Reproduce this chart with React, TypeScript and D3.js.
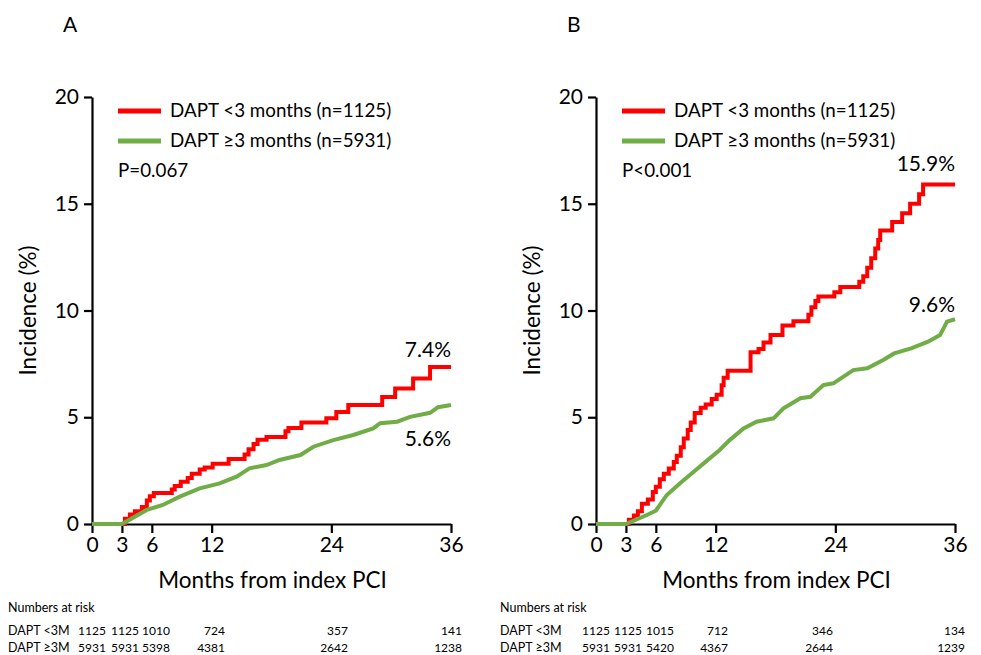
import React, { useEffect, useRef } from 'react';
import * as d3 from 'd3';

// ---- data ----
const xTicks = [0, 3, 6, 12, 24, 36];
const yTicks = [0, 5, 10, 15, 20];

const aRedMonths = [0, 3, 3.3, 3.8, 4.3, 5.0, 5.5, 5.8, 6.2, 8.0, 8.3, 8.9, 9.6, 10.0, 10.8, 11.3, 12.1, 13.7, 15.3, 15.7, 16.2, 16.6, 17.5, 19.4, 19.7, 21.0, 23.5, 24.5, 25.7, 29.1, 30.4, 32.2, 33.9, 36];
const aRedValues = [0, 0, 0.25, 0.45, 0.6, 0.8, 1.1, 1.3, 1.45, 1.62, 1.78, 1.98, 2.15, 2.35, 2.55, 2.65, 2.82, 3.05, 3.25, 3.5, 3.75, 3.95, 4.08, 4.35, 4.5, 4.75, 4.95, 5.25, 5.57, 5.95, 6.35, 6.82, 7.35, 7.35];
const aGreenMonths = [0, 3, 5.5, 7.1, 8.8, 10.8, 12.8, 14.5, 15.8, 17.5, 18.8, 20.9, 22.2, 24.2, 26.2, 28.2, 28.9, 30.6, 31.9, 33.9, 34.7, 36];
const aGreenValues = [0, 0, 0.66, 0.89, 1.28, 1.67, 1.9, 2.22, 2.61, 2.76, 3.0, 3.23, 3.62, 3.93, 4.17, 4.48, 4.72, 4.79, 5.02, 5.21, 5.47, 5.57];

const bRedMonths = [0, 3, 3.3, 3.8, 4.2, 4.6, 5.2, 5.7, 6.0, 6.4, 6.8, 7.3, 7.8, 8.1, 8.5, 8.8, 9.2, 9.5, 9.9, 10.5, 11.0, 11.6, 12.1, 12.6, 12.8, 13.2, 15.5, 16.3, 16.8, 17.5, 18.7, 19.8, 21.3, 21.6, 22.0, 22.3, 23.9, 24.5, 26.4, 26.8, 27.2, 27.6, 28.0, 28.3, 28.5, 29.7, 30.7, 31.5, 32.4, 32.8, 36];
const bRedValues = [0, 0, 0.2, 0.4, 0.6, 0.95, 1.15, 1.5, 1.75, 2.1, 2.35, 2.6, 2.9, 3.2, 3.6, 4.0, 4.4, 4.75, 5.2, 5.45, 5.6, 5.85, 6.05, 6.5, 6.85, 7.18, 8.05, 8.2, 8.5, 8.85, 9.3, 9.5, 9.8, 10.15, 10.45, 10.65, 10.85, 11.1, 11.35, 11.6, 12.0, 12.45, 12.9, 13.3, 13.75, 14.15, 14.55, 15.0, 15.45, 15.9, 15.9];
const bGreenMonths = [0, 3, 5.1, 6.0, 7.1, 8.4, 9.8, 10.8, 12.4, 13.4, 14.8, 16.1, 17.8, 18.8, 20.5, 21.5, 22.8, 23.8, 25.8, 27.2, 28.8, 29.9, 31.6, 33.3, 34.5, 35.2, 36];
const bGreenValues = [0, 0, 0.42, 0.62, 1.36, 1.9, 2.45, 2.84, 3.47, 3.93, 4.48, 4.79, 4.95, 5.42, 5.89, 5.96, 6.51, 6.59, 7.21, 7.29, 7.68, 7.99, 8.23, 8.54, 8.85, 9.48, 9.59];

const seriesNames = ['DAPT <3 months (n=1125)', 'DAPT \u22653 months (n=5931)'];
const riskRowNames = ['DAPT <3M', 'DAPT \u22653M'];
const aRiskShort = ['1125', '1125', '1010', '724', '357', '141'];
const aRiskLong = ['5931', '5931', '5398', '4381', '2642', '1238'];
const bRiskShort = ['1125', '1125', '1015', '712', '346', '134'];
const bRiskLong = ['5931', '5931', '5420', '4367', '2644', '1239'];

const panels = [
  {
    letter: 'A', left: 92, pText: 'P=0.067',
    red: [aRedMonths, aRedValues], green: [aGreenMonths, aGreenValues],
    redLabel: '7.4%', greenLabel: '5.6%',
    risk: [aRiskShort, aRiskLong], tableLeft: 8,
    // column anchors (start for first three, end for the others)
    cols: [78, 111, 142, 225, 348, 462],
    redLabelDy: -10, greenLabelDy: 41,
  },
  {
    letter: 'B', left: 596, pText: 'P<0.001',
    red: [bRedMonths, bRedValues], green: [bGreenMonths, bGreenValues],
    redLabel: '15.9%', greenLabel: '9.6%',
    risk: [bRiskShort, bRiskLong], tableLeft: 500,
    cols: [582, 614, 646, 728, 833, 965],
    redLabelDy: -14, greenLabelDy: -7,
  },
];

const RED = '#ff0000';
const GREEN = '#70ad47';
const FONT = 'Lato, "Open Sans", sans-serif';

const App = () => {
  const svgRef = useRef<SVGSVGElement>(null);

  useEffect(() => {
    const svg = d3.select(svgRef.current);
    svg.selectAll('*').remove();

    const top = 97;
    const bottom = 524;
    const plotW = 359;

    panels.forEach(p => {
      const x = d3.scaleLinear().domain([0, 36]).range([p.left, p.left + plotW]);
      const y = d3.scaleLinear().domain([0, 20]).range([bottom, top]);
      const g = svg.append('g').attr('font-family', FONT);

      // panel letter
      g.append('text').attr('x', p.left - 29).attr('y', 32)
        .attr('font-size', 21).attr('fill', '#000').text(p.letter);

      // axes
      const yAxis = g.append('g').attr('transform', `translate(${p.left},0)`)
        .call(d3.axisLeft(y).tickValues(yTicks).tickSize(8).tickPadding(5).tickSizeOuter(0));
      const xAxis = g.append('g').attr('transform', `translate(0,${bottom})`)
        .call(d3.axisBottom(x).tickValues(xTicks).tickSize(9).tickPadding(4).tickSizeOuter(0));
      [yAxis, xAxis].forEach(ax => {
        ax.select('.domain').attr('stroke', '#000').attr('stroke-width', 2.2);
        ax.selectAll('.tick line').attr('stroke', '#000').attr('stroke-width', 2.2);
        ax.selectAll('.tick text').attr('font-family', FONT).attr('font-size', 21).attr('fill', '#000');
      });

      // axis titles
      g.append('text')
        .attr('transform', `translate(${p.left - 56},${(top + bottom) / 2}) rotate(-90)`)
        .attr('text-anchor', 'middle').attr('font-size', 22.5).text('Incidence (%)');
      g.append('text').attr('x', p.left + plotW / 2 + 1).attr('y', 588)
        .attr('text-anchor', 'middle').attr('font-size', 22.5).text('Months from index PCI');

      // curves
      const toPts = (s: number[][]) => s[0].map((m, i) => [m, s[1][i]] as [number, number]);
      const stepLine = d3.line<[number, number]>().x(d => x(d[0])).y(d => y(d[1])).curve(d3.curveStepAfter);
      const smoothLine = d3.line<[number, number]>().x(d => x(d[0])).y(d => y(d[1]));
      g.append('path').attr('d', stepLine(toPts(p.red)))
        .attr('fill', 'none').attr('stroke', RED).attr('stroke-width', 4);
      g.append('path').attr('d', smoothLine(toPts(p.green)))
        .attr('fill', 'none').attr('stroke', GREEN).attr('stroke-width', 4);

      // end labels
      const lastRed = p.red[1][p.red[1].length - 1];
      const lastGreen = p.green[1][p.green[1].length - 1];
      g.append('text').attr('x', x(36)).attr('y', y(lastRed) + p.redLabelDy)
        .attr('text-anchor', 'end').attr('font-size', 21).text(p.redLabel);
      g.append('text').attr('x', x(36)).attr('y', y(lastGreen) + p.greenLabelDy)
        .attr('text-anchor', 'end').attr('font-size', 21).text(p.greenLabel);

      // legend
      [RED, GREEN].forEach((c, i) => {
        const ly = 111 + i * 30;
        g.append('line').attr('x1', p.left + 26).attr('x2', p.left + 69)
          .attr('y1', ly).attr('y2', ly).attr('stroke', c).attr('stroke-width', 5);
        g.append('text').attr('x', p.left + 78).attr('y', ly + 6)
          .attr('font-size', 18.8).text(seriesNames[i]);
      });
      g.append('text').attr('x', p.left + 26).attr('y', 177).attr('font-size', 18.8).text(p.pText);

      // numbers at risk
      g.append('text').attr('x', p.tableLeft).attr('y', 612).attr('font-size', 12.5).text('Numbers at risk');
      p.risk.forEach((row, r) => {
        const ry = 635 + r * 17;
        g.append('text').attr('x', p.tableLeft).attr('y', ry).attr('font-size', 12.5).text(riskRowNames[r]);
        row.forEach((v, i) => {
          g.append('text').attr('x', p.cols[i]).attr('y', ry)
            .attr('text-anchor', i < 3 ? 'start' : 'end')
            .attr('font-size', 12).text(v);
        });
      });
    });
  }, []);

  return (
    <svg ref={svgRef} width={981} height={655}
      style={{ position: 'absolute', left: 0, top: 0, background: '#fff' }} />
  );
};

export default App;
